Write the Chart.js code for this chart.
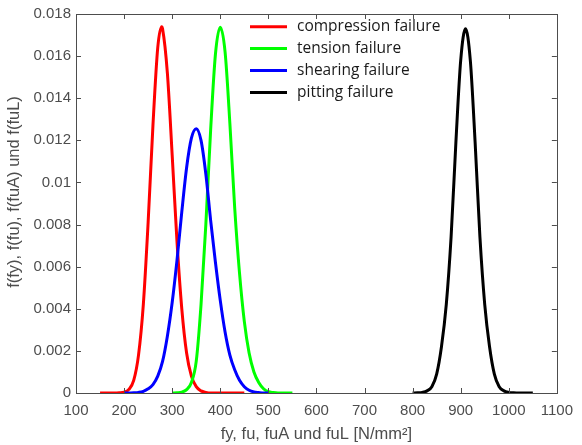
<!DOCTYPE html>
<html lang="de">
<head>
<meta charset="UTF-8" />
<title>Versagensarten</title>
<script src="https://cdn.jsdelivr.net/npm/chart.js"></script>
<style>
  * { margin: 0; padding: 0; box-sizing: border-box }
  body { background: #fff; width: 582px; height: 445px; overflow: hidden }
  #wrap { width: 582px; height: 445px }
</style>
</head>
<body>
<div id="wrap"><canvas id="chart" width="582" height="445"></canvas></div>
<script>
  // Werte
  const seriesNames = ['compression failure', 'tension failure', 'shearing failure', 'pitting failure'];
  const seriesColors = ['#ff0000', '#00ff00', '#0000ff', '#000000'];

  const compressionX = [150, 160, 170, 180, 190, 200, 210, 220, 230, 240, 250, 260, 270, 278, 280, 290, 300, 310, 320, 330, 340, 350, 360, 370, 380, 390, 400, 410, 420, 430, 440, 450];
  const compressionY = [0, 0, 0, 0, 0.00001, 0.00004, 0.00017, 0.0006, 0.0018, 0.0042, 0.0081, 0.0127, 0.0164, 0.0174, 0.0173, 0.0152, 0.0113, 0.0072, 0.0040, 0.0019, 0.0008, 0.0003, 0.0001, 0.00003, 0, 0, 0, 0, 0, 0, 0, 0];

  const tensionX = [300, 310, 320, 330, 340, 350, 360, 370, 380, 390, 400, 410, 420, 430, 440, 450, 460, 470, 480, 490, 500, 510, 520, 530, 540, 550];
  const tensionY = [0, 0.00001, 0.00004, 0.00016, 0.0005, 0.0015, 0.0042, 0.0080, 0.0125, 0.0161, 0.01737, 0.0162, 0.0128, 0.0088, 0.0057, 0.0034, 0.0019, 0.0010, 0.0005, 0.0002, 0.00006, 0.00002, 0, 0, 0, 0];

  const shearingX = [200, 210, 220, 230, 240, 250, 260, 270, 280, 290, 300, 310, 320, 330, 340, 350, 360, 370, 380, 390, 400, 410, 420, 430, 440, 450, 460, 470, 480, 490, 500];
  const shearingY = [0, 0, 0.00001, 0.00003, 0.00008, 0.0002, 0.0004, 0.0008, 0.0015, 0.0027, 0.0043, 0.0063, 0.0086, 0.0107, 0.0121, 0.01255, 0.0120, 0.0104, 0.0082, 0.0062, 0.0044, 0.0029, 0.0018, 0.0011, 0.0006, 0.0003, 0.00013, 0.00005, 0.00002, 0, 0];

  const pittingX = [800, 810, 820, 830, 840, 850, 860, 870, 880, 890, 900, 910, 920, 930, 940, 950, 960, 970, 980, 990, 1000, 1010, 1020, 1030, 1040, 1050];
  const pittingY = [0, 0.00001, 0.00003, 0.0001, 0.0003, 0.0009, 0.0022, 0.0042, 0.0074, 0.0119, 0.0158, 0.0173, 0.0158, 0.0119, 0.0074, 0.0042, 0.0022, 0.0009, 0.0003, 0.0001, 0.00003, 0.00001, 0, 0, 0, 0];

  const xTicks = [100, 200, 300, 400, 500, 600, 700, 800, 900, 1000, 1100];
  const xTickLabels = ['100', '200', '300', '400', '500', '600', '700', '800', '900', '1000', '1100'];
  const yTicks = [0, 0.002, 0.004, 0.006, 0.008, 0.01, 0.012, 0.014, 0.016, 0.018];
  const yTickLabels = ['0', '0.002', '0.004', '0.006', '0.008', '0.01', '0.012', '0.014', '0.016', '0.018'];

  const xTitle = 'fy, fu, fuA und fuL [N/mm²]';
  const yTitle = 'f(fy), f(fu), f(fuA) und f(fuL)';

  const allX = [compressionX, tensionX, shearingX, pittingX];
  const allY = [compressionY, tensionY, shearingY, pittingY];

  const axisColor = '#4d4d4d';
  const tickFont = { family: "'Liberation Sans', Arial, sans-serif", size: 15 };
  const titleFont = { family: "'Liberation Sans', Arial, sans-serif", size: 16.5 };

  const datasets = seriesNames.map((name, i) => ({
    label: name,
    data: allX[i].map((x, j) => ({ x: x, y: allY[i][j] })),
    borderColor: seriesColors[i],
    backgroundColor: seriesColors[i],
    borderWidth: 3,
    pointRadius: 0,
    fill: false,
    cubicInterpolationMode: 'monotone',
    order: seriesNames.length - i
  }));

  // Rahmen mit Innen-Ticks (wie MATLAB "box on") und y-Achsentitel
  const boxPlugin = {
    id: 'box',
    afterDatasetsDraw(chart) {
      const { ctx, chartArea: a, scales: { x, y } } = chart;
      ctx.save();
      ctx.strokeStyle = axisColor;
      ctx.lineWidth = 1;
      ctx.strokeRect(Math.round(a.left) + 0.5, Math.round(a.top) + 0.5, Math.round(a.right - a.left), Math.round(a.bottom - a.top));
      ctx.beginPath();
      const len = 5;
      xTicks.forEach(v => {
        const px = Math.round(x.getPixelForValue(v)) + 0.5;
        ctx.moveTo(px, a.bottom); ctx.lineTo(px, a.bottom - len);
        ctx.moveTo(px, a.top); ctx.lineTo(px, a.top + len);
      });
      yTicks.forEach(v => {
        const py = Math.round(y.getPixelForValue(v)) + 0.5;
        ctx.moveTo(a.left, py); ctx.lineTo(a.left + len, py);
        ctx.moveTo(a.right, py); ctx.lineTo(a.right - len, py);
      });
      ctx.stroke();

      ctx.translate(14, 192);
      ctx.rotate(-Math.PI / 2);
      ctx.font = titleFont.size + 'px ' + titleFont.family;
      ctx.fillStyle = axisColor;
      ctx.textAlign = 'center';
      ctx.textBaseline = 'middle';
      ctx.fillText(yTitle, 0, 0);
      ctx.restore();
    }
  };

  // Legende oben in der Zeichenfläche
  const legendPlugin = {
    id: 'innerLegend',
    afterDraw(chart) {
      const { ctx, chartArea: a } = chart;
      const x0 = a.left + 174, lineLen = 37, rowH = 21.9, y0 = 26.7;
      ctx.save();
      ctx.font = "15.5px 'Open Sans', sans-serif";
      ctx.textBaseline = 'middle';
      chart.data.datasets.forEach((ds, i) => {
        const yy = y0 + i * rowH;
        ctx.strokeStyle = ds.borderColor;
        ctx.lineWidth = 3;
        ctx.beginPath();
        ctx.moveTo(x0, yy); ctx.lineTo(x0 + lineLen, yy);
        ctx.stroke();
        ctx.fillStyle = '#1a1a1a';
        ctx.fillText(ds.label, x0 + 47, yy);
      });
      ctx.restore();
    }
  };

  new Chart(document.getElementById('chart'), {
    type: 'line',
    data: { datasets },
    options: {
      responsive: false,
      animation: false,
      layout: { padding: { left: 0, right: 17, top: 7, bottom: 0 } },
      plugins: { legend: { display: false }, tooltip: { enabled: false } },
      scales: {
        x: {
          type: 'linear',
          min: 100,
          max: 1100,
          afterFit(s) { s.height = 52; },
          afterBuildTicks(s) { s.ticks = xTicks.map(v => ({ value: v })); },
          grid: { drawOnChartArea: false, drawTicks: false },
          border: { display: false },
          ticks: {
            color: axisColor, font: tickFont, padding: 9, maxRotation: 0, autoSkip: false,
            callback: (v, i) => xTickLabels[i]
          },
          title: { display: true, text: xTitle, color: axisColor, font: titleFont, padding: { top: 1, bottom: 1 } }
        },
        y: {
          type: 'linear',
          min: 0,
          max: 0.018,
          afterFit(s) { s.width = 76; },
          afterBuildTicks(s) { s.ticks = yTicks.map(v => ({ value: v })); },
          grid: { drawOnChartArea: false, drawTicks: false },
          border: { display: false },
          ticks: {
            color: axisColor, font: tickFont, padding: 5, autoSkip: false,
            callback: (v, i) => yTickLabels[i]
          }
        }
      }
    },
    plugins: [boxPlugin, legendPlugin]
  });
</script>
</body>
</html>
